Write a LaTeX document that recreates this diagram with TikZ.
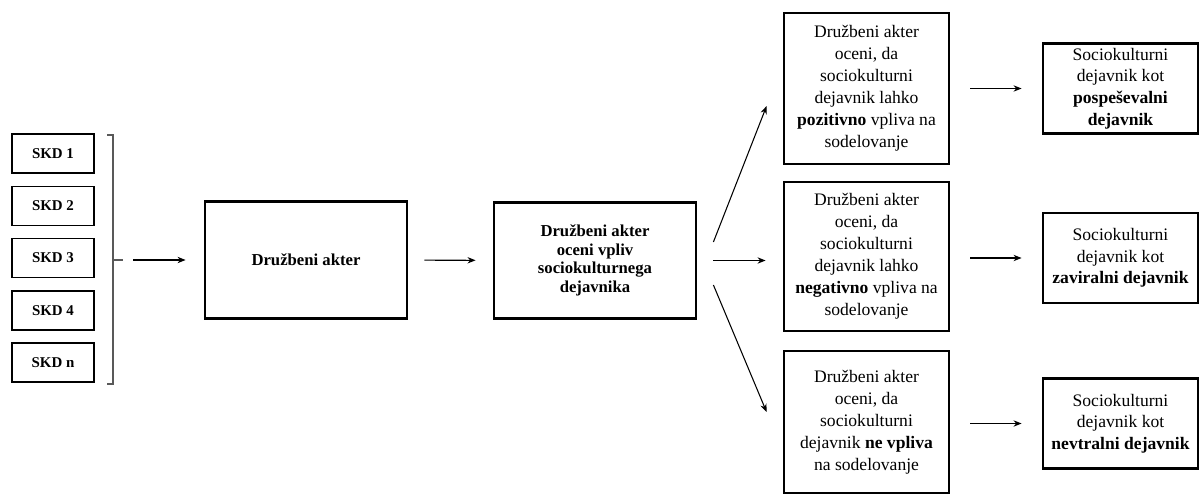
\documentclass[tikz,border=0pt]{standalone}
\usepackage{fontspec}
\setmainfont{Liberation Serif}
\usepackage{tikz}
\usetikzlibrary{arrows.meta}
\tikzset{
  skdnode/.style={draw=black,line width=1.1pt,minimum width=1.64cm,minimum height=0.78cm,inner sep=1pt,font=\fontsize{8.5}{10}\selectfont\bfseries},
  stagebox/.style={draw=black,line width=1.6pt,minimum width=4.04cm,minimum height=2.33cm,align=center,inner sep=2pt,font=\fontsize{9.5}{10.6}\selectfont\bfseries},
  evalbox/.style={draw=black,line width=1.6pt,minimum width=3.30cm,align=center,inner sep=2pt,font=\fontsize{10}{12.5}\selectfont},
  resbox/.style={evalbox,minimum width=3.10cm,minimum height=1.80cm,font=\fontsize{10}{12.3}\selectfont},
  flowedge/.style={->,>={Stealth[length=4.6pt,width=3.6pt]},semithick,black},
  brline/.style={black!65,semithick},
}

\begin{document}
\begin{tikzpicture}
  \useasboundingbox (0,0) rectangle (24,-9.88);
  \node[skdnode] (nSKD1) at (1.06,-3.07) {SKD 1};
  \node[skdnode] (nSKD2) at (1.06,-4.12) {SKD 2};
  \node[skdnode] (nSKD3) at (1.06,-5.16) {SKD 3};
  \node[skdnode] (nSKD4) at (1.06,-6.21) {SKD 4};
  \node[skdnode] (nSKDn) at (1.06,-7.25) {SKD n};
  \node[stagebox] (nAkter) at (6.12,-5.20) {Družbeni akter};
  \node[stagebox] (nJudge) at (11.90,-5.21) {Družbeni akter\\ oceni vpliv\\ sociokulturnega\\ dejavnika};
  \node[evalbox,minimum height=3.02cm] (nPos) at (17.33,-1.77) {Družbeni akter\\ oceni, da\\ sociokulturni\\ dejavnik lahko\\ \textbf{pozitivno} vpliva na\\ sodelovanje};
  \node[evalbox,minimum height=2.98cm] (nNeg) at (17.33,-5.13) {Družbeni akter\\ oceni, da\\ sociokulturni\\ dejavnik lahko\\ \textbf{negativno} vpliva na\\ sodelovanje};
  \node[evalbox,minimum height=2.84cm] (nNone) at (17.33,-8.44) {Družbeni akter\\ oceni, da\\ sociokulturni\\ dejavnik \textbf{ne vpliva}\\ na sodelovanje};
  \node[resbox] (nRes1) at (22.41,-1.77) {Sociokulturni\\ dejavnik kot\\ \textbf{pospeševalni}\\ \textbf{dejavnik}};
  \node[resbox] (nRes2) at (22.41,-5.16) {Sociokulturni\\ dejavnik kot\\ \textbf{zaviralni dejavnik}};
  \node[resbox] (nRes3) at (22.41,-8.47) {Sociokulturni\\ dejavnik kot\\ \textbf{nevtralni dejavnik}};
  \coordinate (brMid) at (2.46,-5.20);
  \draw[brline] (2.14,-2.70) -- (2.26,-2.70) -- (2.26,-7.68) -- (2.14,-7.68);
  \draw[brline] (2.26,-5.20) -- (brMid);
  \draw[flowedge,shorten <=0.2cm,shorten >=0.36cm] (brMid) -- (nAkter);
  \draw[flowedge,shorten <=0.32cm,shorten >=0.34cm] (nAkter) -- (nJudge);
  \draw[flowedge] ([xshift=0.32cm,yshift=0.37cm]nJudge.east) -- ([xshift=-0.32cm,yshift=-0.35cm]nPos.west);
  \draw[flowedge,shorten <=0.32cm,shorten >=0.34cm] (nJudge.east) -- (nJudge.east -| nNeg.west);
  \draw[flowedge] ([xshift=0.32cm,yshift=-0.49cm]nJudge.east) -- ([xshift=-0.32cm,yshift=0.2cm]nNone.west);
  \draw[flowedge,shorten <=0.4cm,shorten >=0.4cm] (nPos) -- (nRes1);
  \draw[flowedge,shorten <=0.4cm,shorten >=0.4cm] (nRes2.west -| nNeg.east) -- (nRes2.west);
  \draw[flowedge,shorten <=0.4cm,shorten >=0.4cm] (nRes3.west -| nNone.east) -- (nRes3.west);
\end{tikzpicture}
\end{document}
